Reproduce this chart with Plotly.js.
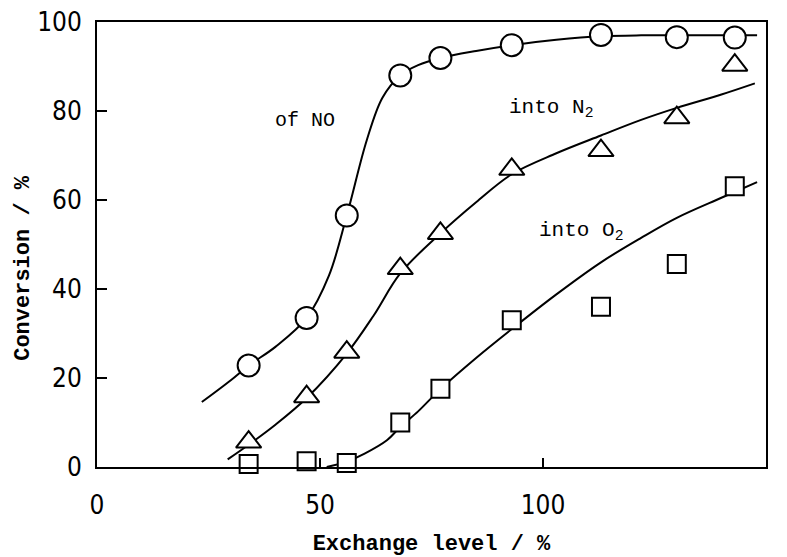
<!DOCTYPE html>
<html>
<head>
<meta charset="utf-8">
<script src="https://cdn.plot.ly/plotly-3.0.1.min.js"></script>
<style>
  html, body { margin: 0; padding: 0; background: #ffffff; }
  #chart { width: 787px; height: 557px; }
</style>
</head>
<body>
<div id="chart"></div>
<script>
// Exchange level (%) of the catalysts that were measured
const exchangeLevel = [34, 47, 56, 68, 77, 93, 113, 130, 143];

// Measured conversions (%)
const convNO = [22.8, 33.5, 56.5, 88.0, 91.9, 94.8, 97.1, 96.6, 96.5];
const convN2 = [5.6, 15.8, 25.8, 44.6, 52.5, 66.9, 71.1, 78.5, 90.3];
const convO2 = [0.7, 1.3, 0.9, 10.0, 17.6, 33.0, 36.0, 45.6, 63.1];

// Smoothed trend curves drawn through the measurements
const curveNOx = [23.5, 30, 34, 40, 47, 52, 56, 60.5, 64, 68, 72, 77, 85, 93, 103, 113, 122, 130, 140, 148];
const curveNOy = [14.6, 19.5, 22.8, 27, 33.5, 43, 56.5, 73.5, 83, 88, 90.3, 91.9, 93.5, 94.8, 96, 96.8, 97, 97, 97, 97];

const curveN2x = [29.3, 34, 40, 47, 56, 62, 68, 77, 85, 93, 103, 113, 122, 130, 140, 147.5];
const curveN2y = [1.7, 5, 9.5, 15.5, 25.5, 34, 43.5, 52.5, 59.5, 65.8, 70.5, 74.5, 78, 80.7, 83.7, 86.2];

const curveO2x = [51.5, 56, 60, 65, 68, 72, 77, 85, 93, 103, 113, 122, 130, 140, 148];
const curveO2y = [0, 1.2, 3, 6, 9, 12.5, 17.5, 24.5, 31, 38.8, 46, 51.5, 56, 60.5, 64];

// Tick labels
const xTicks = [0, 50, 100, 150];
const yTicks = [0, 20, 40, 60, 80, 100];

const ink = '#000000';
const mono = 'Liberation Mono, DejaVu Sans Mono, monospace';
const digits = 'Liberation Sans Narrow, DejaVu Sans Condensed, Liberation Sans, sans-serif';

function curve(x, y) {
  return {
    x: x, y: y, type: 'scatter', mode: 'lines',
    line: { color: ink, width: 2, shape: 'spline', smoothing: 1 },
    hoverinfo: 'skip', showlegend: false
  };
}

function points(y, symbol, size) {
  return {
    x: exchangeLevel, y: y, type: 'scatter', mode: 'markers',
    marker: { symbol: symbol, size: size, color: '#ffffff', line: { color: ink, width: 2 } },
    cliponaxis: false, showlegend: false
  };
}

const data = [
  curve(curveNOx, curveNOy),
  curve(curveN2x, curveN2y),
  curve(curveO2x, curveO2y),
  points(convNO, 'circle', 22),
  points(convN2, 'triangle-up', 22),
  points(convO2, 'square', 18)
];

const layout = {
  width: 787, height: 557,
  margin: { l: 97, r: 21, t: 22, b: 90 },
  paper_bgcolor: '#ffffff', plot_bgcolor: '#ffffff',
  showlegend: false,
  xaxis: {
    range: [0, 150], tickmode: 'array', tickvals: xTicks, ticktext: xTicks.map(String),
    ticks: 'inside', ticklen: 9, tickwidth: 2, tickcolor: ink,
    showline: true, linecolor: ink, linewidth: 2, mirror: true,
    showgrid: false, zeroline: false,
    tickfont: { family: digits, size: 26, color: ink },
    ticklabelstandoff: 14,
    title: { text: 'Exchange level / %', font: { family: mono, size: 22, color: ink, weight: 'bold' }, standoff: 18 }
  },
  yaxis: {
    range: [0, 100], tickmode: 'array', tickvals: yTicks, ticktext: yTicks.map(String),
    ticks: 'inside', ticklen: 10, tickwidth: 2, tickcolor: ink,
    showline: true, linecolor: ink, linewidth: 2, mirror: true,
    showgrid: false, zeroline: false,
    tickfont: { family: digits, size: 26, color: ink },
    ticklabelstandoff: 8
  },
  annotations: [
    // vertical axis caption, set a little below the middle of the axis
    { x: -0.111, y: 0.447, xref: 'paper', yref: 'paper', text: 'Conversion / %', textangle: -90,
      showarrow: false, xanchor: 'center', yanchor: 'middle',
      font: { family: mono, size: 22, color: ink, weight: 'bold' } },
    { x: 46.6, y: 77.8, xref: 'x', yref: 'y', text: 'of NO', showarrow: false,
      font: { family: mono, size: 20, color: ink } },
    { x: 101.8, y: 80.5, xref: 'x', yref: 'y', text: 'into N<sub>2</sub>', showarrow: false,
      font: { family: mono, size: 21, color: ink } },
    { x: 108.5, y: 53, xref: 'x', yref: 'y', text: 'into O<sub>2</sub>', showarrow: false,
      font: { family: mono, size: 21, color: ink } }
  ]
};

Plotly.newPlot('chart', data, layout, { displayModeBar: false, staticPlot: true });
</script>
</body>
</html>
